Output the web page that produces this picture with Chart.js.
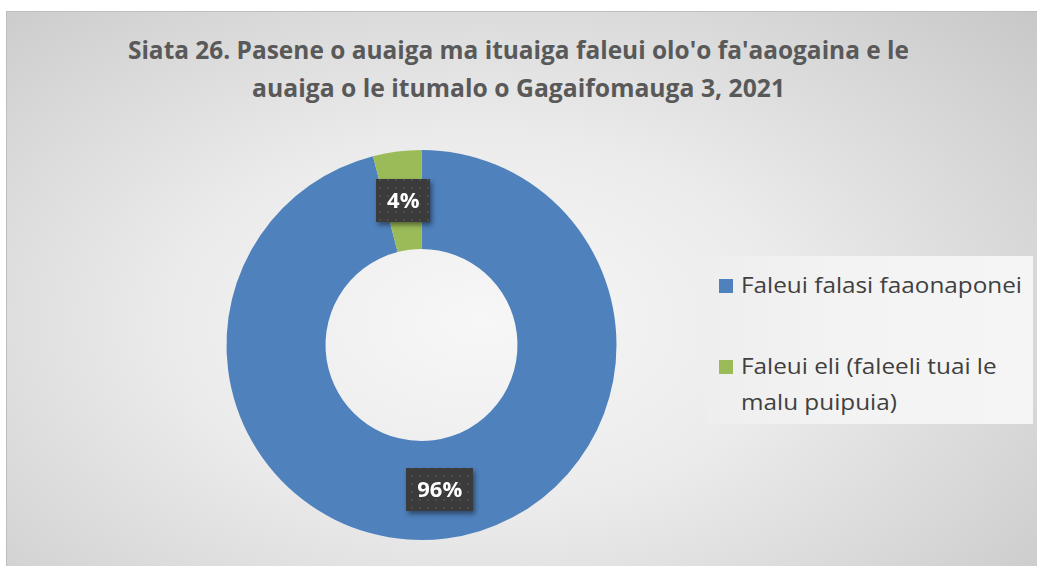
<!DOCTYPE html>
<html>
<head>
<meta charset="utf-8">
<script src="https://cdn.jsdelivr.net/npm/chart.js@4/dist/chart.umd.min.js"></script>
<style>
  html, body { margin:0; padding:0; background:#ffffff; width:1037px; height:566px; overflow:hidden; }
  #frame { position:absolute; left:6px; top:11px; width:1031px; height:555px; box-sizing:border-box;
    border-left:1px solid #bdbdbd; border-top:1px solid #bdbdbd;
    background: radial-gradient(ellipse 75% 85% at 46% 56%, #f7f7f7 0%, #ebebeb 40%, #d6d6d6 75%, #c6c6c6 100%); }
  #title { position:absolute; left:0; top:30px; width:1037px; text-align:center; color:#595959;
    font-family:"Open Sans", sans-serif; font-weight:700; font-size:25px; line-height:38px; }
  #title div { display:block; white-space:nowrap; }
  #title span { display:inline-block; transform-origin:center; }
  #legend { position:absolute; left:705px; top:256px; width:328px; height:168px;
    background:linear-gradient(90deg, #eeeeee 0%, #f3f3f3 40%, #f5f5f5 100%); }
  .item { position:absolute; left:14px; color:#404040; font-family:"Open Sans", sans-serif; font-size:21px; line-height:36px; }
  .item .box { position:absolute; left:0; width:14px; height:14px; }
  .item .txt { position:absolute; left:22px; white-space:nowrap; transform-origin:left center; }
  canvas { position:absolute; left:0; top:0; }
</style>
</head>
<body>
<div id="frame"></div>
<div id="title"><div><span id="t1"></span></div><div><span id="t2"></span></div></div>
<div id="legend"></div>
<canvas id="c" width="1037" height="566"></canvas>
<script>
const titleLines = ["Siata 26. Pasene o auaiga ma ituaiga faleui olo'o fa'aaogaina e le",
                    "auaiga o le itumalo o Gagaifomauga 3, 2021"];
const categories = ["Faleui falasi faaonaponei", "Faleui eli (faleeli tuai le malu puipuia)"];
const legendLines = [["Faleui falasi faaonaponei"], ["Faleui eli (faleeli tuai le", "malu puipuia)"]];
const values = [96, 4];
const colors = ["#4f81bd", "#9bbb59"];

// title
const t1 = document.getElementById('t1'), t2 = document.getElementById('t2');
t1.textContent = titleLines[0]; t2.textContent = titleLines[1];
const mc = document.createElement('canvas').getContext('2d');
function fitWidth(el, text, font, target){
  mc.font = font; const w = mc.measureText(text).width;
  el.style.transform = 'scaleX(' + (target / w) + ')';
}
fitWidth(t1, titleLines[0], '700 25px "Open Sans"', 781);
fitWidth(t2, titleLines[1], '700 25px "Open Sans"', 533);

// legend
const lg = document.getElementById('legend');
const itemTops = [11, 92];
categories.forEach((c, i) => {
  const it = document.createElement('div'); it.className = 'item'; it.style.top = itemTops[i] + 'px';
  const b = document.createElement('div'); b.className = 'box'; b.style.background = colors[i]; b.style.top = '12px';
  it.appendChild(b);
  legendLines[i].forEach((ln, k) => {
    const t = document.createElement('div'); t.className = 'txt'; t.textContent = ln; t.style.top = (k * 36) + 'px';
    it.appendChild(t);
  });
  lg.appendChild(it);
});
mc.font = '400 21px "Open Sans"';
const sc = 281 / mc.measureText(legendLines[0][0]).width;
document.querySelectorAll('.item .txt').forEach(t => t.style.transform = 'scaleX(' + sc + ')');

// pattern for labels
const pc = document.createElement('canvas'); pc.width = 8; pc.height = 8;
const px = pc.getContext('2d');
px.fillStyle = '#3b3b3b'; px.fillRect(0,0,8,8);
px.fillStyle = '#4b4b4b'; px.fillRect(3,3,2,2);

const labelPlugin = {
  id: 'boxLabels',
  afterDatasetsDraw(chart) {
    const ctx = chart.ctx;
    const meta = chart.getDatasetMeta(0);
    const pattern = ctx.createPattern(pc, 'repeat');
    meta.data.forEach((arc, i) => {
      const p = arc.getProps(['x','y','startAngle','endAngle','innerRadius','outerRadius'], true);
      const mid = (p.startAngle + p.endAngle) / 2;
      const r = (p.innerRadius + p.outerRadius) / 2;
      const cx = p.x + Math.cos(mid) * r, cy = p.y + Math.sin(mid) * r;
      const total = values.reduce((a,b)=>a+b,0);
      const txt = Math.round(values[i] / total * 100) + '%';
      ctx.save();
      ctx.font = '700 22px "Open Sans"';
      const w = ctx.measureText(txt).width + 22, h = 43;
      ctx.shadowColor = 'rgba(0,0,0,0.45)'; ctx.shadowBlur = 5; ctx.shadowOffsetX = 2; ctx.shadowOffsetY = 3;
      ctx.fillStyle = pattern;
      ctx.fillRect(Math.round(cx - w/2), Math.round(cy - h/2), Math.round(w), h);
      ctx.shadowColor = 'transparent';
      ctx.fillStyle = '#ffffff'; ctx.textAlign = 'center'; ctx.textBaseline = 'middle';
      ctx.fillText(txt, cx, cy + 1);
      ctx.restore();
    });
  }
};

new Chart(document.getElementById('c'), {
  type: 'doughnut',
  data: { labels: categories, datasets: [{ data: values, backgroundColor: colors, borderWidth: 0, hoverOffset: 0, radius: 195, cutout: 96 }] },
  options: {
    responsive: false, animation: false,
    layout: { padding: { left: 226, right: 420, top: 150, bottom: 26 } },
    plugins: { legend: { display: false }, title: { display: false }, tooltip: { enabled: false } }
  },
  plugins: [labelPlugin]
});
</script>
</body>
</html>
